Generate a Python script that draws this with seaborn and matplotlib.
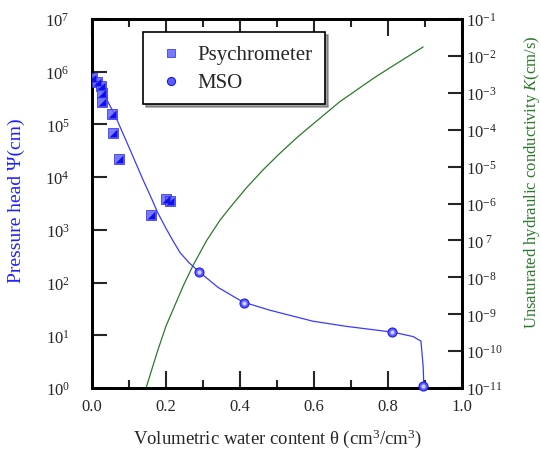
import numpy as np
import pandas as pd
import seaborn as sns
import matplotlib.pyplot as plt
from matplotlib.ticker import FixedLocator, NullLocator

# Psychrometer measurements (theta, pressure head in cm)
psy_theta = [0.0, 0.014, 0.024, 0.027, 0.027, 0.054, 0.057, 0.074, 0.16, 0.20, 0.21]
psy_psi = [7.6e5, 6.5e5, 5.4e5, 4.0e5, 2.7e5, 1.6e5, 6.8e4, 2.2e4, 1.9e3, 3.9e3, 3.5e3]

# MSO measurements
mso_theta = [0.29, 0.41, 0.81, 0.895]
mso_psi = [162, 41, 11.5, 1.1]

# fitted retention curve
fit_theta = [0.025, 0.04, 0.062, 0.103, 0.138, 0.162, 0.176, 0.2, 0.22, 0.238, 0.262,
             0.289, 0.341, 0.408, 0.481, 0.597, 0.689, 0.814, 0.868, 0.889, 0.895, 0.897]
fit_psi = [5.0e5, 2.95e5, 1.5e5, 3.3e4, 8.9e3, 3.8e3, 2.24e3, 1.07e3, 603, 372, 240,
           162, 81, 43, 30, 18.6, 14.8, 11.5, 9.5, 7.8, 2.6, 1.0]

# unsaturated hydraulic conductivity curve (cm/s)
k_theta = [0.146, 0.176, 0.2, 0.247, 0.274, 0.31, 0.346, 0.382, 0.418, 0.463, 0.508,
           0.553, 0.585, 0.67, 0.716, 0.759, 0.80, 0.895]
k_vals = [1e-11, 9.3e-11, 4.8e-10, 6.0e-9, 2.2e-8, 1.0e-7, 3.55e-7, 1.0e-6, 2.7e-6,
          8.3e-6, 2.3e-5, 6.0e-5, 1.12e-4, 5.75e-4, 1.2e-3, 2.4e-3, 4.4e-3, 1.74e-2]

x_ticks = [0.0, 0.2, 0.4, 0.6, 0.8, 1.0]
x_minor = [0.1, 0.3, 0.5, 0.7, 0.9]
left_ticks = [1e0, 1e1, 1e2, 1e3, 1e4, 1e5, 1e6, 1e7]
left_labels = ['$10^{%d}$' % i for i in range(8)]
right_ticks = [10.0 ** e for e in range(-11, 0)]
right_labels = ['$10^{%d}$' % e for e in range(-11, 0)]
right_labels[4] = '$10^{\\ 7}$'  # as printed in the original

sns.set_style('ticks')
plt.rcParams['font.family'] = ['Liberation Serif', 'DejaVu Serif']
plt.rcParams['mathtext.fontset'] = 'custom'
plt.rcParams['mathtext.rm'] = 'Liberation Serif'
plt.rcParams['mathtext.it'] = 'Liberation Serif:italic'

fig = plt.figure(figsize=(5.41, 4.52), dpi=100)
ax = fig.add_axes([0.170, 0.139, 0.684, 0.817])
ax2 = ax.twinx()

blue = '#3a3aff'
green = '#2a7a2a'

sns.lineplot(x=k_theta, y=k_vals, ax=ax2, color=green, lw=0.9, sort=False)
ax2.set_yscale('log')
ax2.set_ylim(1e-11, 1e-1)
ax2.yaxis.set_major_locator(FixedLocator(right_ticks))
ax2.yaxis.set_minor_locator(NullLocator())
ax2.set_yticklabels(right_labels)
ax2.tick_params(axis='y', direction='in', length=10, width=1.5, pad=3, labelsize=12)
ax2.set_ylabel('Unsaturated hydraulic conductivity $K$(cm/s)', color=green, fontsize=12)
ax2.yaxis.set_label_coords(1.163, 0.56)

ax.set_zorder(ax2.get_zorder() + 1)
ax.patch.set_visible(False)

sns.lineplot(x=fit_theta, y=fit_psi, ax=ax, color=blue, lw=0.9, sort=False)
sns.scatterplot(x=psy_theta, y=psy_psi, ax=ax, marker='s', s=50, color='#6a6aff',
                edgecolor='#3030f0', linewidth=0.6, alpha=0.9, label='Psychrometer', zorder=4)
# darker lower-right half of the squares
tri = [(-1, -1), (1, -1), (1, 1), (-1, -1)]
sns.scatterplot(x=psy_theta, y=psy_psi, ax=ax, marker=tri, s=32, color='#1010e8',
                linewidth=0, zorder=5, legend=False)
sns.scatterplot(x=mso_theta, y=mso_psi, ax=ax, marker='o', s=42, color='#5c5cff',
                edgecolor='#1a1aee', linewidth=0.8, label='MSO', zorder=4, clip_on=False)
# little highlight on the spheres
sns.scatterplot(x=mso_theta, y=mso_psi, ax=ax, marker='o', s=9, color='#d0d0ff',
                linewidth=0, zorder=5, clip_on=False, legend=False)

ax.set_yscale('log')
ax.set_ylim(1e0, 1e7)
ax.set_xlim(0, 1.0)
ax.yaxis.set_major_locator(FixedLocator(left_ticks))
ax.yaxis.set_minor_locator(NullLocator())
ax.set_yticklabels(left_labels)
ax.xaxis.set_major_locator(FixedLocator(x_ticks))
ax.xaxis.set_minor_locator(FixedLocator(x_minor))
ax.set_xticklabels(['%.1f' % v for v in x_ticks])
ax.tick_params(axis='y', direction='in', length=11, width=1.5, pad=16, labelsize=12)
ax.tick_params(axis='x', which='major', direction='in', length=12, width=1.5,
               top=True, pad=7, labelsize=12)
ax.tick_params(axis='x', which='minor', direction='in', length=6, width=1.5, top=True)

ax.set_xlabel('Volumetric water content θ (cm$^3$/cm$^3$)', fontsize=13.5)
ax.xaxis.set_label_coords(0.5, -0.103)
ax.set_ylabel('Pressure head Ψ(cm)', color='#2020ff', fontsize=14)
ax.yaxis.set_label_coords(-0.18, 0.51)

for a in (ax, ax2):
    for sp in a.spines.values():
        sp.set_linewidth(2)
        sp.set_color('black')
        sp.set_visible(True)

leg = ax.legend(loc='upper left', bbox_to_anchor=(0.138, 0.965), borderaxespad=0,
                frameon=True, fancybox=False, shadow=True, fontsize=15,
                handlelength=1.5, handletextpad=0.5, borderpad=0.6, labelspacing=0.4,
                markerscale=0.9)
leg.get_frame().set_edgecolor('black')
leg.get_frame().set_linewidth(1.2)

fig.savefig('out.png', dpi=100)
